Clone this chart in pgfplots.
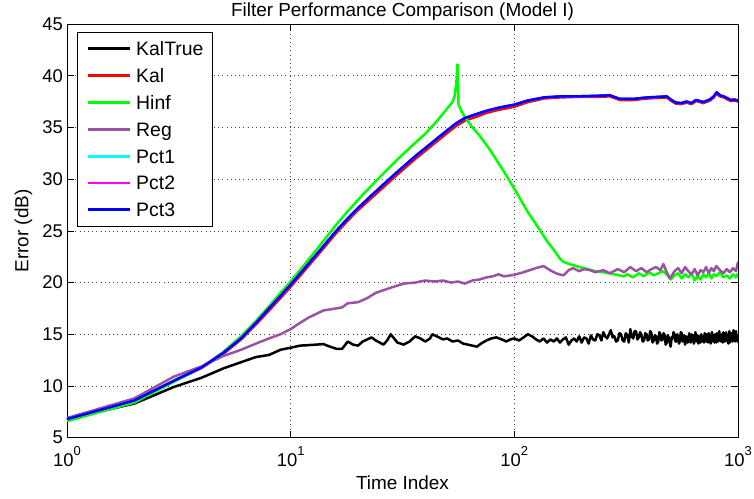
\documentclass[border=0pt]{standalone}
\usepackage{pgfplots}
\pgfplotsset{compat=1.18}
\usepackage{fontspec}
\setmainfont{Liberation Sans}
\definecolor{regc}{rgb}{0.6,0.33,0.63}
\definecolor{mcyan}{rgb}{0,1,1}
\definecolor{mmag}{rgb}{1,0,1}
\definecolor{mred}{rgb}{1,0,0}
\definecolor{mgreen}{rgb}{0,1,0}
\definecolor{mblue}{rgb}{0,0,1}
\newcommand{\tp}[1]{10\raisebox{11.4bp}{\fontsize{13}{13}\selectfont #1}}
\begin{document}
\begin{tikzpicture}
\begin{axis}[
  scale only axis, width=671bp, height=413.7bp,
  xmode=log, log basis x=10,
  xmin=1, xmax=1000, ymin=5, ymax=45,
  xtick={1,10,100,1000},
  xticklabels={\tp{0},\tp{1},\tp{2},\tp{3}},
  ytick={5,10,...,45},
  grid=both,
  major grid style={black!75, line width=0.5bp, dash pattern=on 0.8bp off 3.4bp},
  minor grid style={black!75, line width=0.5bp, dash pattern=on 0.8bp off 3.4bp},
  axis line style={black, line width=0.8bp},
  tick style={black, line width=0.6bp},
  major tick length=7bp, minor tick length=4bp,
  tick align=inside,
  /pgf/number format/assume math mode=true,
  tick label style={font=\fontsize{18.5}{20}\selectfont},
  xticklabel style={anchor=base, yshift=-29bp},
  yticklabel style={xshift=-0.5bp},
  xlabel={Time Index},
  ylabel={Error (dB)},
  label style={font=\fontsize{19}{21}\selectfont},
  xlabel style={at={(axis description cs:0.5,-0.1264)}, anchor=base},
  ylabel style={at={(axis description cs:-0.0574,0.5)}, anchor=base, rotate=0},
  title={Filter Performance Comparison (Model I)},
  title style={font=\fontsize{19}{21}\selectfont, at={(axis description cs:0.5,1)}, anchor=base, yshift=2bp},
  legend cell align=left,
  legend style={at={(rel axis cs:0.0149,0.9814)}, anchor=north west,
    draw=black, line width=0.8bp, inner xsep=9bp, inner ysep=3.3bp,
    column sep=5bp, row sep=0pt,
    nodes={inner sep=0pt, text height=20.4bp, text depth=6.43bp, anchor=west,
      font=\fontsize{19.5}{21}\selectfont}},
  legend image code/.code={\draw[#1, line width=2.8bp] (0bp,0bp) -- (42bp,0bp);},
  every axis plot/.append style={line width=2.5bp, line join=round},
]
% KalTrue
\addplot[black] table {
1 6.8
2 8.3
3 9.9
4 10.8
5 11.7
6 12.3
7 12.8
8 13.0
9 13.5
10 13.7
11 13.9
12 13.95
13 14.0
14 14.05
15 13.8
16 13.6
17 13.6
18 14.3
19 14.0
20 13.9
21 14.3
22 14.5
23 14.7
24 14.4
25 14.2
26 14.0
27 14.4
28 15.0
29 14.6
30 14.2
32 14.0
34 14.3
36 14.8
38 14.6
40 14.3
42 14.6
43 15.0
45 14.8
48 14.5
50 14.6
53 14.3
56 14.4
59 14.1
62 14.0
65 13.9
68 13.8
71 14.1
75 14.4
79 14.6
83 14.7
88 14.5
92 14.3
96 14.5
100 14.6
105 14.4
110 14.7
115 15.0
120 14.8
125 14.5
130 14.3
135 14.6
140 14.2
145 14.5
150 14.3
155 14.6
160 14.2
165 14.5
170 14.7
175 14.0
180 14.4
185 14.6
190 14.3
195 14.8
200 14.2
205 14.7
210 14.6
215 14.1
220 14.9
225 14.5
230 14.4
235 15.0
240 14.9
245 14.4
250 15.2
255 14.8
260 14.6
265 15.0
270 15.4
275 14.7
280 14.8
285 14.3
290 14.4
295 15.1
300 15.0
305 14.4
310 14.3
315 15.1
320 14.9
325 14.2
330 15.5
335 14.8
340 14.6
345 15.3
350 15.3
355 14.5
360 14.7
365 15.2
370 14.9
375 14.3
380 14.4
385 15.1
390 15.0
395 14.4
400 14.5
405 15.3
410 15.1
415 14.2
420 14.4
425 14.9
430 14.8
435 14.1
440 14.3
445 15.2
450 15.0
455 14.4
460 14.5
465 15.1
470 14.9
475 14.0
480 14.2
485 14.9
490 14.7
495 14.2
500 13.8
505 14.7
510 14.6
515 15.2
520 15.0
525 14.3
530 14.3
535 15.0
540 14.8
545 14.1
550 14.4
555 15.2
560 15.1
565 14.3
570 14.5
575 14.9
580 14.0
585 14.8
590 14.7
595 14.2
600 14.3
605 15.1
610 14.6
615 14.2
620 15.0
625 14.4
630 14.9
635 14.1
640 14.4
645 15.2
650 14.7
655 14.3
660 14.9
665 14.1
670 14.8
675 14.5
680 14.2
685 15.0
690 14.6
695 14.3
700 14.8
705 14.2
710 15.1
715 14.6
720 14.3
725 15.0
730 14.5
735 14.2
740 15.1
745 14.5
750 14.9
755 14.1
760 14.4
765 15.2
770 14.6
775 14.3
780 14.9
785 14.2
790 15.0
795 14.5
800 14.2
805 15.1
810 14.6
815 14.3
820 14.7
825 15.3
830 14.4
835 14.8
840 14.3
845 15.0
850 14.6
855 14.2
860 15.2
865 14.5
870 14.9
875 14.3
880 14.5
885 15.2
890 14.4
895 14.8
900 14.9
905 14.1
910 14.7
915 15.3
920 14.2
925 14.8
930 14.5
935 15.1
940 15.0
945 14.3
950 14.7
955 15.4
960 14.4
965 14.9
970 14.3
975 15.0
980 15.3
985 14.5
990 14.8
995 14.3
1000 14.6
};
\addlegendentry{KalTrue}
% Kal
\addplot[mred] table {
1 6.75
2 8.55
3 10.45
4 11.75
5 13.1
6 14.5
7 15.95
8 17.3
9 18.5
10 19.6
12 21.6
14 23.3
16 24.8
18 26.0
20 27.0
24 28.55
30 30.45
36 31.95
40 32.75
45 33.65
50 34.45
55 35.15
60 35.65
68 36.05
75 36.4
85 36.7
100 37.0
115 37.45
136 37.8
160 37.9
190 37.95
230 37.95
267 38.0
297 37.65
339 37.65
394 37.8
440 37.85
480 37.9
500 37.6
527 37.3
556 37.25
590 37.4
619 37.25
650 37.55
700 37.35
749 37.6
780 37.9
803 38.3
830 38.0
863 37.9
900 37.7
927 37.55
960 37.6
1000 37.5
};
\addlegendentry{Kal}
% Hinf
\addplot[mgreen] table {
1 6.6
2 8.4
3 10.4
4 11.8
5 13.3
6 14.8
7 16.3
8 17.7
9 19.0
10 20.1
12 22.2
14 24.0
16 25.6
18 26.9
20 28.0
24 29.8
30 31.9
36 33.5
40 34.4
45 35.6
50 36.8
53 37.5
54 38.0
55 39.2
55.7 41.1
56.3 37.2
58 36.6
60 36.0
65 35.0
70 34.2
78 32.8
90 30.7
103 28.6
115 26.8
130 25.1
140 24.0
151 23.1
160 22.3
166 22.0
175 21.8
183 21.7
195 21.5
205 21.4
230 21.1
267 20.9
309 20.6
320 20.8
340 20.5
360 20.9
380 20.6
400 21.0
420 20.7
440 20.9
460 21.1
480 20.8
500 20.3
520 20.7
540 20.9
560 20.4
580 20.8
600 20.5
620 20.9
640 20.2
660 20.6
680 20.3
700 20.8
720 20.5
740 20.9
760 20.4
780 20.8
800 20.6
830 21.0
860 20.5
890 20.7
920 20.4
950 20.8
980 20.5
1000 20.9
};
\addlegendentry{Hinf}
% Reg
\addplot[regc] table {
1 6.9
2 8.8
3 10.9
4 11.9
5 12.9
6 13.5
7 14.1
8 14.6
9 15.0
10 15.5
11 16.1
12 16.6
14 17.3
16 17.5
17 17.6
18 18.0
20 18.1
22 18.5
24 19.0
28 19.5
32 19.9
36 20.0
40 20.2
44 20.1
48 20.2
52 20.0
56 20.1
60 19.9
65 20.2
70 20.3
75 20.5
80 20.6
85 20.8
90 20.6
100 20.75
110 21.0
117 21.2
125 21.4
135 21.6
142 21.3
150 21.0
158 20.8
166 20.7
175 21.2
183 21.4
195 21.1
205 21.3
218 21.2
230 21.0
250 21.2
267 20.9
290 21.3
310 21.0
330 21.5
350 21.1
370 21.4
390 21.0
410 21.3
430 21.5
450 21.2
464 21.8
480 21.0
497 20.4
520 21.1
540 21.4
560 20.9
580 21.5
600 21.1
620 20.8
640 21.3
660 20.7
680 21.2
700 21.0
720 21.5
740 20.9
760 21.4
780 21.1
800 21.6
830 21.2
860 20.9
890 21.3
920 21.0
950 21.4
980 21.1
1000 22.0
};
\addlegendentry{Reg}
% Pct1
\addplot[mcyan] table {
1 6.8
2 8.6
3 10.5
4 11.8
5 13.2
6 14.6
7 16.1
8 17.5
9 18.7
10 19.8
12 21.8
14 23.5
16 25.0
18 26.2
20 27.2
24 28.8
30 30.7
36 32.2
40 33.0
45 33.9
50 34.7
55 35.4
60 35.9
68 36.3
75 36.6
85 36.9
100 37.2
115 37.6
136 37.9
160 38.0
190 38.0
230 38.05
267 38.1
297 37.75
339 37.75
394 37.9
440 37.95
480 38.0
500 37.7
527 37.4
556 37.35
590 37.5
619 37.35
650 37.65
700 37.45
749 37.7
780 38.0
803 38.4
830 38.1
863 38.0
900 37.8
927 37.65
960 37.7
1000 37.6
};
\addlegendentry{Pct1}
% Pct2
\addplot[mmag] table {
1 6.8
2 8.6
3 10.5
4 11.8
5 13.2
6 14.6
7 16.1
8 17.5
9 18.7
10 19.8
12 21.8
14 23.5
16 25.0
18 26.2
20 27.2
24 28.8
30 30.7
36 32.2
40 33.0
45 33.9
50 34.7
55 35.4
60 35.9
68 36.3
75 36.6
85 36.9
100 37.2
115 37.6
136 37.9
160 38.0
190 38.0
230 38.05
267 38.1
297 37.75
339 37.75
394 37.9
440 37.95
480 38.0
500 37.7
527 37.4
556 37.35
590 37.5
619 37.35
650 37.65
700 37.45
749 37.7
780 38.0
803 38.4
830 38.1
863 38.0
900 37.8
927 37.65
960 37.7
1000 37.6
};
\addlegendentry{Pct2}
% Pct3
\addplot[mblue] table {
1 6.8
2 8.6
3 10.5
4 11.8
5 13.2
6 14.6
7 16.1
8 17.5
9 18.7
10 19.8
12 21.8
14 23.5
16 25.0
18 26.2
20 27.2
24 28.8
30 30.7
36 32.2
40 33.0
45 33.9
50 34.7
55 35.4
60 35.9
68 36.3
75 36.6
85 36.9
100 37.2
115 37.6
136 37.9
160 38.0
190 38.0
230 38.05
267 38.1
297 37.75
339 37.75
394 37.9
440 37.95
480 38.0
500 37.7
527 37.4
556 37.35
590 37.5
619 37.35
650 37.65
700 37.45
749 37.7
780 38.0
803 38.4
830 38.1
863 38.0
900 37.8
927 37.65
960 37.7
1000 37.6
};
\addlegendentry{Pct3}
\end{axis}
\pgfresetboundingbox
\path[use as bounding box] (-67bp,-61.3bp) rectangle (687bp,437.7bp);
\end{tikzpicture}
\end{document}
